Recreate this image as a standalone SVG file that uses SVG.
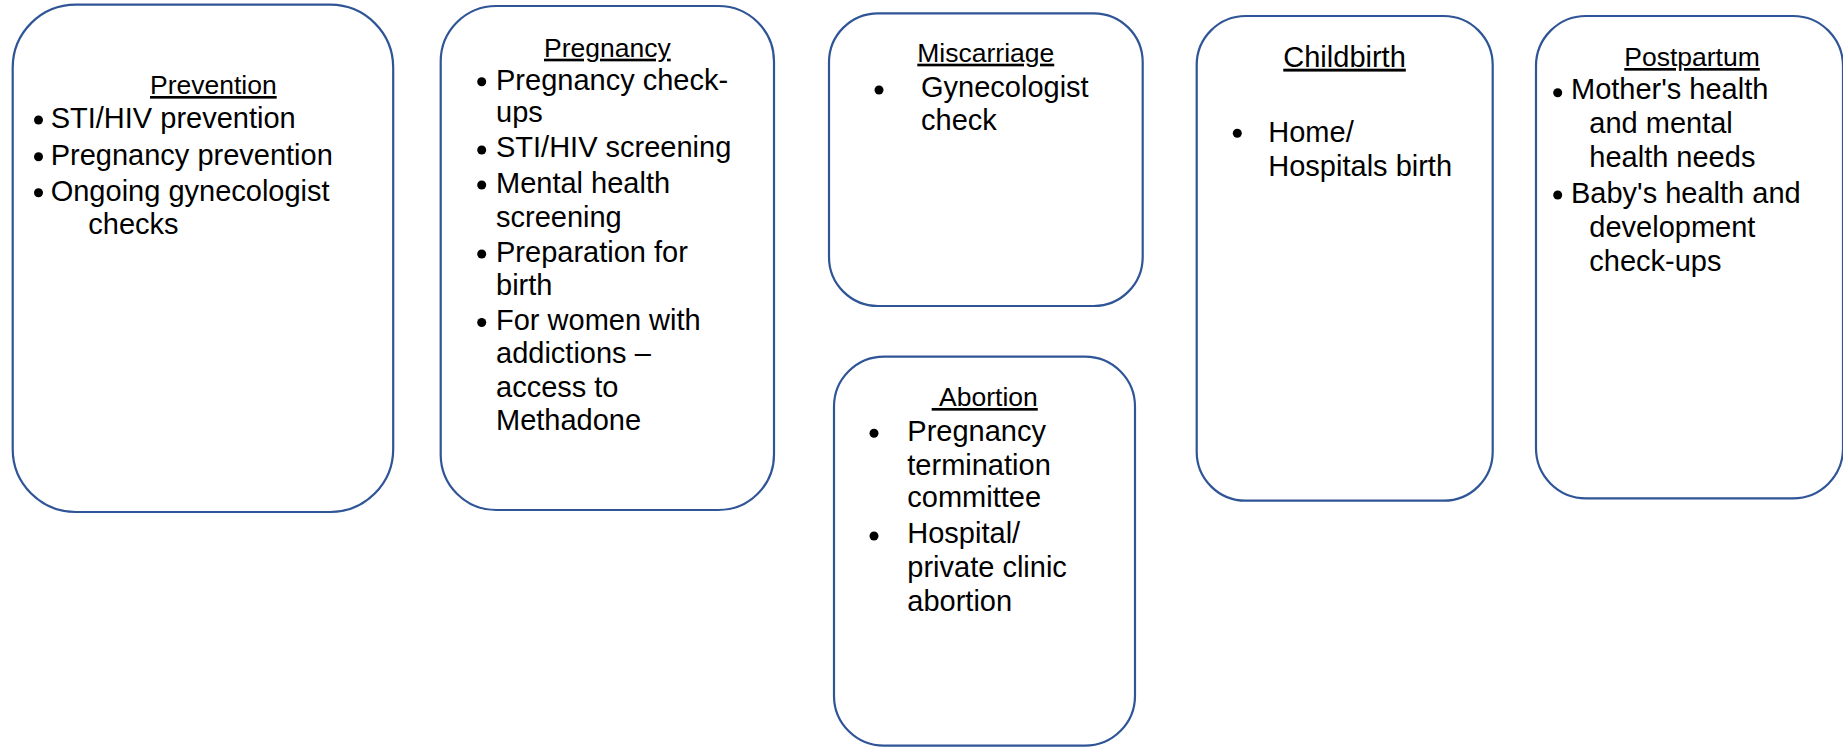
<svg xmlns="http://www.w3.org/2000/svg" width="1843" height="747" viewBox="0 0 1843 747">
<style>
.box{fill:#ffffff;stroke:#2F5597;stroke-width:2.2}
.t{font-family:"Liberation Sans",Arial,sans-serif;fill:#000000}
.h{font-size:26.5px;text-decoration:underline}
.h2{font-size:29px;text-decoration:underline}
.b{font-size:29px}
.dot{fill:#000000}
</style>
<rect x="0" y="0" width="1843" height="747" fill="#ffffff"/>
<g id="connectors"></g>

<g id="prevention">
<rect class="box" x="12.7" y="4.7" width="380.5" height="507.3" rx="63" ry="63"/>
<text class="t h" x="150" y="94">Prevention</text>
<circle class="dot" cx="38.5" cy="120" r="4.5"/>
<text class="t b" x="50.7" y="128.3">STI/HIV prevention</text>
<circle class="dot" cx="38.5" cy="156.7" r="4.5"/>
<text class="t b" x="50.7" y="164.8">Pregnancy prevention</text>
<circle class="dot" cx="38.5" cy="192.7" r="4.5"/>
<text class="t b" x="50.7" y="200.5">Ongoing gynecologist</text>
<text class="t b" x="88.3" y="233.5">checks</text>
</g>

<g id="pregnancy">
<rect class="box" x="440.7" y="6" width="333.3" height="504" rx="55.5" ry="55.5"/>
<text class="t h" x="544" y="56.7">Pregnancy</text>
<circle class="dot" cx="481.7" cy="81.7" r="4.5"/>
<text class="t b" x="496" y="90">Pregnancy check-</text>
<text class="t b" x="496" y="122">ups</text>
<circle class="dot" cx="481.7" cy="150" r="4.5"/>
<text class="t b" x="496" y="157">STI/HIV screening</text>
<circle class="dot" cx="481.7" cy="185" r="4.5"/>
<text class="t b" x="496" y="193">Mental health</text>
<text class="t b" x="496" y="226.7">screening</text>
<circle class="dot" cx="481.7" cy="254" r="4.5"/>
<text class="t b" x="496" y="261.7">Preparation for</text>
<text class="t b" x="496" y="295">birth</text>
<circle class="dot" cx="481.7" cy="322.5" r="4.5"/>
<text class="t b" x="496" y="330">For women with</text>
<text class="t b" x="496" y="363.3">addictions –</text>
<text class="t b" x="496" y="396.7">access to</text>
<text class="t b" x="496" y="430">Methadone</text>
</g>

<g id="miscarriage">
<rect class="box" x="829" y="13.3" width="313.7" height="292.7" rx="49" ry="49"/>
<text class="t h" x="917.3" y="61.7">Miscarriage</text>
<circle class="dot" cx="879" cy="90" r="4.5"/>
<text class="t b" x="921" y="96.7">Gynecologist</text>
<text class="t b" x="921" y="130">check</text>
</g>

<g id="abortion">
<rect class="box" x="834" y="356.7" width="301" height="389" rx="50" ry="50"/>
<text class="t h" x="931.7" y="406">&#160;Abortion</text>
<circle class="dot" cx="874" cy="433.3" r="4.5"/>
<text class="t b" x="907.3" y="440.5">Pregnancy</text>
<text class="t b" x="907.3" y="474.5">termination</text>
<text class="t b" x="907.3" y="507">committee</text>
<circle class="dot" cx="874" cy="536" r="4.5"/>
<text class="t b" x="907.3" y="543.3">Hospital/</text>
<text class="t b" x="907.3" y="576.7">private clinic</text>
<text class="t b" x="907.3" y="610.7">abortion</text>
</g>

<g id="childbirth">
<rect class="box" x="1196.7" y="16" width="296" height="484.7" rx="49" ry="49"/>
<text class="t h2" x="1283.3" y="66.7">Childbirth</text>
<circle class="dot" cx="1237.3" cy="133.3" r="4.5"/>
<text class="t b" x="1268.3" y="141.7">Home/</text>
<text class="t b" x="1268.3" y="176">Hospitals birth</text>
</g>

<g id="postpartum">
<rect class="box" x="1536" y="16" width="307" height="482.3" rx="50" ry="50"/>
<text class="t h" x="1624.3" y="66">Postpartum</text>
<circle class="dot" cx="1557.7" cy="92.7" r="4.5"/>
<text class="t b" x="1571" y="99.3">Mother's health</text>
<text class="t b" x="1589.3" y="133.3">and mental</text>
<text class="t b" x="1589.3" y="166.7">health needs</text>
<circle class="dot" cx="1557.7" cy="195" r="4.5"/>
<text class="t b" x="1571" y="202.7">Baby's health and</text>
<text class="t b" x="1589.3" y="236.7">development</text>
<text class="t b" x="1589.3" y="270.7">check-ups</text>
</g>
</svg>
